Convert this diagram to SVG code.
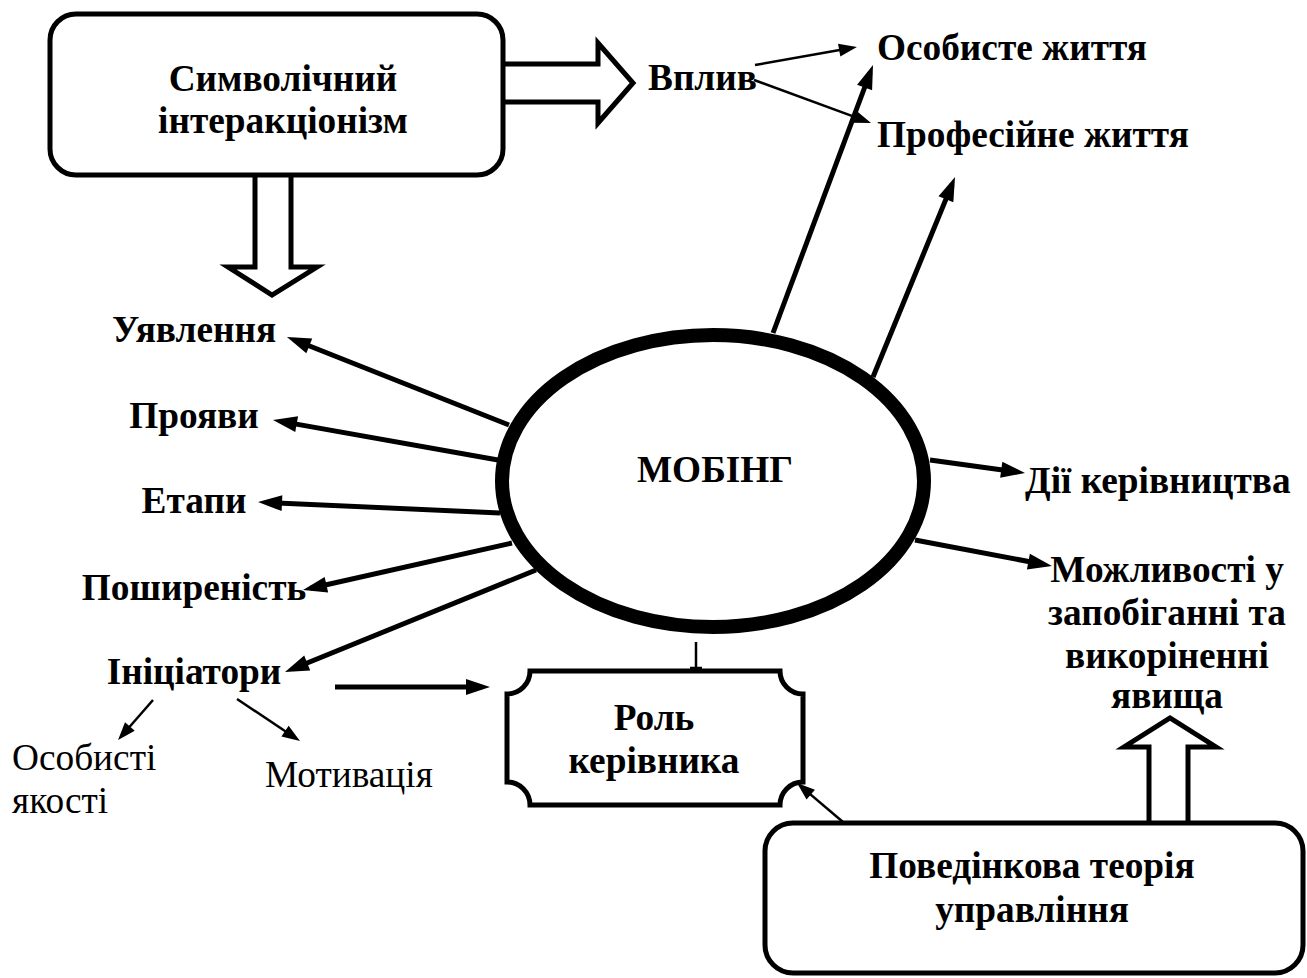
<svg xmlns="http://www.w3.org/2000/svg" width="1307" height="978" viewBox="0 0 1307 978" font-family="Liberation Serif, DejaVu Serif, serif">
<style>
.b{font-weight:bold;font-size:37.3px;fill:#000}
.r{font-weight:normal;font-size:37.3px;fill:#000}
.box{fill:#fff;stroke:#000;stroke-width:5}
.thick{stroke:#000;stroke-width:5;fill:none}
.thin{stroke:#000;stroke-width:2.5;fill:none}
.blk{fill:#fff;stroke:#000;stroke-width:5;stroke-linejoin:miter}
</style>
<defs>
<marker id="ah" markerUnits="userSpaceOnUse" markerWidth="24" markerHeight="16" refX="16" refY="8" orient="auto" overflow="visible"><path d="M0,0 L24,8 L0,16 Z" fill="#000"/></marker>
<marker id="as" markerUnits="userSpaceOnUse" markerWidth="18" markerHeight="13" refX="12" refY="6.5" orient="auto" overflow="visible"><path d="M0,0 L18,6.5 L0,13 Z" fill="#000"/></marker>
</defs>
<g id="connectors">
<polyline class="blk" points="503,64 598,64 598,43 633,83 598,123 598,102 503,102"/>
<polyline class="blk" points="255,175 255,267 228,267 272,295 317,267 291,267 291,175"/>
<polyline class="blk" points="1149,823 1149,747 1124,747 1170,718 1216,747 1188,747 1188,823"/>
<line class="thin" x1="755" y1="65" x2="851" y2="48" marker-end="url(#as)"/>
<line class="thin" x1="754" y1="80" x2="865.4" y2="120.9" marker-end="url(#as)"/>
<line class="thick" x1="773" y1="333" x2="870.2" y2="72.5" marker-end="url(#ah)"/>
<line class="thick" x1="873" y1="377" x2="952" y2="184.4" marker-end="url(#ah)"/>
<line class="thick" x1="509" y1="425" x2="294.4" y2="340" marker-end="url(#ah)"/>
<line class="thick" x1="498" y1="460" x2="280.9" y2="421.4" marker-end="url(#ah)"/>
<line class="thick" x1="500" y1="513" x2="266" y2="502.4" marker-end="url(#ah)"/>
<line class="thick" x1="512" y1="543" x2="310.8" y2="588.2" marker-end="url(#ah)"/>
<line class="thick" x1="536" y1="570" x2="292.4" y2="669" marker-end="url(#ah)"/>
<line class="thick" x1="335" y1="687" x2="482" y2="687" marker-end="url(#ah)"/>
<line class="thick" x1="930" y1="460" x2="1017.1" y2="471.9" marker-end="url(#ah)"/>
<line class="thick" x1="915" y1="540" x2="1044.1" y2="564.5" marker-end="url(#ah)"/>
<line class="thin" x1="153" y1="700" x2="122" y2="735.5" marker-end="url(#as)"/>
<line class="thin" x1="237" y1="699" x2="295" y2="737.7" marker-end="url(#as)"/>
<line class="thin" x1="843" y1="822" x2="801.6" y2="786.9" marker-end="url(#as)"/>
<line class="thin" x1="696" y1="642" x2="696" y2="669"/>
<line class="thin" x1="690" y1="668" x2="702" y2="668"/>
</g>
<g id="node-symbolic">
<rect class="box" x="50" y="14" width="453" height="161" rx="26"/>
<text class="b" x="283" y="91" text-anchor="middle">Символічний</text>
<text class="b" x="283" y="133" text-anchor="middle">інтеракціонізм</text>
</g>
<g id="node-vplyv"><text class="b" x="648" y="90">Вплив</text></g>
<g id="node-personal-life"><text class="b" x="877" y="60">Особисте життя</text></g>
<g id="node-prof-life"><text class="b" x="877" y="147">Професійне життя</text></g>
<g id="node-mobing">
<ellipse cx="713" cy="481" rx="211" ry="146" fill="#fff" stroke="#000" stroke-width="14"/>
<text class="b" x="715" y="482" text-anchor="middle">МОБІНГ</text>
</g>
<g id="node-uyavlennya"><text class="b" x="194" y="342" text-anchor="middle">Уявлення</text></g>
<g id="node-proyavy"><text class="b" x="194" y="428" text-anchor="middle">Прояви</text></g>
<g id="node-etapy"><text class="b" x="194" y="513" text-anchor="middle">Етапи</text></g>
<g id="node-poshyrenist"><text class="b" x="194" y="600" text-anchor="middle">Поширеність</text></g>
<g id="node-initsiatory"><text class="b" x="194" y="684" text-anchor="middle">Ініціатори</text></g>
<g id="node-osobysti"><text class="r" x="12" y="770">Особисті</text><text class="r" x="12" y="813">якості</text></g>
<g id="node-motyvatsiya"><text class="r" x="265" y="787">Мотивація</text></g>
<g id="node-rol">
<path class="box" d="M530,671 H780 A23,23 0 0 0 803,694 V782 A23,23 0 0 0 780,805 H530 A23,23 0 0 0 507,782 V694 A23,23 0 0 0 530,671 Z"/>
<text class="b" x="654" y="730" text-anchor="middle">Роль</text>
<text class="b" x="654" y="773" text-anchor="middle">керівника</text>
</g>
<g id="node-dii"><text class="b" x="1025" y="493">Дії керівництва</text></g>
<g id="node-mozhlyvosti">
<text class="b" x="1167" y="582" text-anchor="middle">Можливості у</text>
<text class="b" x="1167" y="625" text-anchor="middle">запобіганні та</text>
<text class="b" x="1167" y="668" text-anchor="middle">викоріненні</text>
<text class="b" x="1167" y="708" text-anchor="middle">явища</text>
</g>
<g id="node-behavioral">
<rect class="box" x="765" y="823" width="538" height="150" rx="28"/>
<text class="b" x="1032" y="878" text-anchor="middle">Поведінкова теорія</text>
<text class="b" x="1032" y="922" text-anchor="middle">управління</text>
</g>
</svg>
